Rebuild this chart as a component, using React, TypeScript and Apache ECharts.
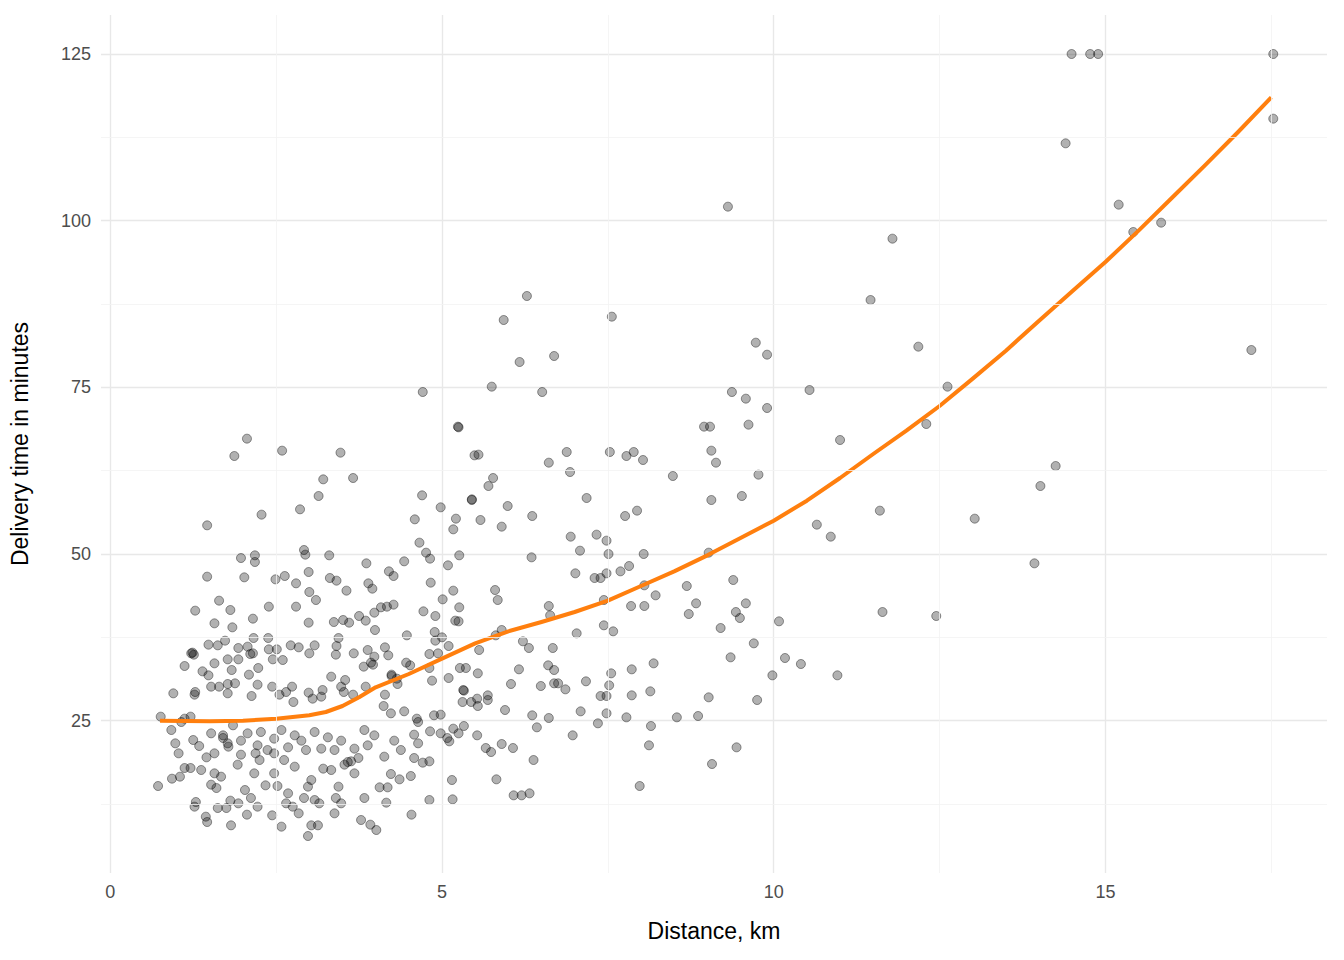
import React, { useEffect, useRef } from "react";
import * as echarts from "echarts";

// [distance km, delivery minutes]
const orders: number[][] = [
  [14.49, 125], [14.77, 125], [14.89, 125], [17.53, 125], [17.53, 115.3], [14.4, 111.6], [9.31, 102.1],
  [15.2, 102.4], [15.42, 98.3], [15.84, 99.7], [11.79, 97.3], [11.46, 88.1], [6.28, 88.7], [5.93, 85.1],
  [7.56, 85.6], [9.73, 81.7], [9.9, 79.9], [6.69, 79.7], [6.17, 78.8], [12.18, 81.1], [17.2, 80.6],
  [5.75, 75.1], [6.51, 74.3], [4.71, 74.3], [9.37, 74.3], [9.58, 73.3], [9.9, 71.9], [10.54, 74.6],
  [12.62, 75.1], [11.0, 67.1], [12.3, 69.5], [9.62, 69.4], [8.95, 69.1], [9.04, 69.1], [9.06, 65.5],
  [9.13, 63.7], [7.53, 65.3], [7.89, 65.3], [7.78, 64.7], [6.88, 65.3], [6.61, 63.7], [8.03, 64.1],
  [8.48, 61.7], [9.77, 61.9], [6.93, 62.3], [14.25, 63.2], [14.02, 60.2], [7.18, 58.4], [9.52, 58.7],
  [9.06, 58.1], [7.94, 56.5], [7.76, 55.7], [11.6, 56.5], [10.65, 54.4], [13.03, 55.3], [10.86, 52.6],
  [6.94, 52.6], [7.33, 52.9], [7.48, 52], [7.08, 50.5], [7.51, 50], [8.04, 50], [9.02, 50.2], [6.35, 49.5],
  [7.82, 48.2], [7.69, 47.4], [7.01, 47.1], [7.3, 46.4], [7.39, 46.4], [7.48, 47.1], [9.39, 46.1],
  [13.93, 48.6], [8.05, 45.3], [7.44, 43.1], [8.22, 43.8], [8.69, 45.2], [7.85, 42.2], [8.05, 42.2],
  [8.72, 41], [8.83, 42.6], [9.58, 42.6], [9.43, 41.3], [9.49, 40.4], [11.64, 41.3], [12.45, 40.7],
  [10.08, 39.9], [9.2, 38.9], [7.44, 39.3], [7.58, 38.4], [7.03, 38.1], [9.7, 36.6], [9.35, 34.5],
  [10.17, 34.4], [10.41, 33.5], [8.19, 33.6], [7.86, 32.7], [7.55, 32.1], [7.52, 30.3], [10.96, 31.8],
  [9.98, 31.8], [8.14, 29.4], [7.39, 28.7], [7.48, 28.7], [7.86, 28.8], [9.02, 28.5], [7.17, 30.9],
  [6.86, 29.7], [9.75, 28.1], [7.09, 26.4], [7.48, 26.1], [7.78, 25.5], [8.54, 25.5], [8.86, 25.7],
  [8.15, 24.2], [7.35, 24.6], [6.97, 22.8], [8.12, 21.3], [9.44, 21], [9.07, 18.5], [7.98, 15.2],
  [6.08, 13.8], [6.2, 13.8], [6.32, 14.1], [6.38, 19.1],
  [5.9, 54.1], [5.99, 57.2], [5.77, 61.4], [5.55, 64.9], [6.36, 55.7], [5.7, 60.2], [5.58, 55.1],
  [5.45, 58.1], [5.24, 69.1], [5.8, 44.6], [5.84, 43.1], [6.61, 42.2], [6.63, 40.8], [5.81, 37.8],
  [6.22, 36.9], [6.31, 35.9], [6.67, 35.9], [6.6, 33.3], [6.69, 32.6], [6.69, 30.6], [6.75, 30.6],
  [6.49, 30.2], [6.04, 30.5], [5.69, 28.8], [5.69, 28.1], [5.44, 27.8], [5.54, 27.2], [5.95, 26.6],
  [6.36, 25.8], [6.61, 25.4], [6.43, 24], [5.66, 20.9], [5.74, 20.3], [5.9, 21.5], [6.07, 20.9],
  [5.82, 16.2], [5.32, 29.6], [5.36, 32.9], [5.56, 35.6], [5.9, 38.6], [6.16, 32.7],
  [2.06, 67.3], [1.87, 64.7], [2.59, 65.5], [3.47, 65.2], [3.14, 58.7], [3.21, 61.2], [3.66, 61.4],
  [2.86, 56.7], [2.28, 55.9], [1.46, 54.3], [4.7, 58.8], [4.98, 57.0], [4.59, 55.2], [5.25, 69.0],
  [5.49, 64.8], [5.45, 58.2], [5.21, 55.3], [5.17, 53.7], [4.66, 51.7], [4.76, 50.2], [4.82, 49.3],
  [5.26, 49.8], [5.09, 48.3], [2.92, 50.6], [2.94, 49.9], [3.3, 49.8], [1.97, 49.4], [2.18, 49.8],
  [2.18, 48.8], [1.46, 46.6], [2.02, 46.5], [2.49, 46.2], [2.63, 46.7], [2.99, 47.3], [2.8, 45.6],
  [3.31, 46.4], [3.41, 46], [3.56, 44.5], [3.86, 48.6], [4.2, 47.4], [4.27, 46.7], [4.43, 48.9],
  [3.89, 45.6], [3.95, 44.8], [4.83, 45.7], [5.17, 44.5], [5.01, 43.2], [3.0, 44.3], [3.1, 43.1],
  [2.39, 42.1], [2.8, 42.1], [1.64, 43.0], [1.81, 41.6], [1.28, 41.5], [2.15, 40.3], [1.57, 39.6],
  [1.84, 39.0], [2.99, 39.7], [3.37, 39.8], [3.51, 40.1], [3.6, 39.7], [3.75, 40.7], [3.85, 40.0],
  [3.98, 41.2], [3.99, 38.6], [4.08, 42.0], [4.17, 42.1], [4.27, 42.4], [4.72, 41.4], [4.9, 40.7],
  [5.2, 40.0], [5.25, 39.9], [5.26, 42.0], [4.47, 37.8], [4.89, 38.3], [5.0, 37.5], [4.9, 37.0],
  [5.1, 36.2], [1.22, 35.1], [1.24, 35.2], [1.12, 33.2], [1.26, 34.9], [1.39, 32.4], [1.48, 31.8],
  [1.52, 30.1], [1.28, 29.3], [0.95, 29.1], [1.27, 28.9], [0.76, 25.6], [1.48, 36.4], [1.57, 33.6],
  [1.62, 36.3], [1.73, 37.0], [1.77, 34.2], [1.83, 32.6], [1.93, 35.9], [1.93, 34.2], [2.07, 36.1],
  [2.11, 35.0], [2.15, 35.1], [2.23, 32.9], [2.16, 37.4], [2.38, 37.4], [2.39, 35.7], [2.51, 35.7],
  [2.45, 34.2], [2.6, 34.1], [2.72, 36.3], [2.84, 36.0], [3.0, 35.1], [3.08, 36.3], [3.41, 36.2],
  [3.4, 34.9], [3.44, 37.4], [3.67, 35.1], [3.82, 33.1], [3.96, 33.4], [3.88, 35.6], [3.98, 34.6],
  [4.14, 36.0], [4.19, 34.8], [4.24, 31.9], [4.32, 31.3], [4.52, 33.3], [4.46, 33.7], [4.81, 35.0],
  [4.94, 35.1], [4.81, 32.9], [4.85, 31.0], [5.1, 31.4], [5.27, 32.9], [5.54, 32.1], [1.64, 30.1],
  [1.77, 30.5], [1.88, 30.6], [2.09, 31.9], [2.22, 30.4], [2.13, 28.7], [1.77, 29.1], [2.44, 30.1],
  [2.55, 28.9], [2.65, 29.3], [2.74, 30.1], [2.76, 27.8], [2.99, 29.2], [3.05, 28.3], [3.2, 29.6],
  [3.18, 28.6], [3.33, 31.6], [3.48, 30.1], [3.54, 31.1], [3.52, 29.3], [3.66, 28.9], [3.85, 30.1],
  [3.93, 33.7], [4.14, 28.9], [4.24, 31.7], [4.33, 30.5], [4.12, 27.2], [4.23, 26.1], [4.43, 26.4],
  [4.64, 24.8], [4.62, 25.3], [4.82, 23.4], [4.88, 25.8], [4.98, 25.9], [5.31, 27.8], [5.33, 29.5],
  [5.53, 28.3], [5.53, 22.8], [5.33, 24.2], [1.12, 25.3], [1.21, 25.6], [1.07, 24.8], [0.92, 23.6],
  [0.98, 21.6], [1.03, 20.1], [1.25, 22.1], [1.34, 21.2], [0.72, 15.2], [0.93, 16.3], [1.05, 16.6],
  [1.12, 17.9], [1.21, 17.9], [1.37, 17.6], [1.45, 19.5], [1.52, 15.4], [1.6, 14.9], [1.67, 16.6],
  [1.57, 20.1], [1.7, 22.4], [1.78, 21.1], [1.27, 12.1], [1.29, 12.8], [1.44, 10.6], [1.46, 9.8],
  [1.62, 11.9], [1.75, 11.9], [1.82, 9.3], [1.81, 13.0], [1.92, 18.4], [1.97, 19.9], [2.03, 14.6],
  [2.06, 10.9], [2.12, 13.4], [2.19, 20.1], [2.25, 19.1], [2.34, 15.3], [2.44, 10.8], [2.47, 17.1],
  [2.52, 15.2], [2.58, 9.1], [2.62, 19.1], [2.65, 12.6], [2.75, 12.1], [2.84, 11.1], [2.92, 13.4],
  [2.98, 7.7], [3.03, 9.3], [3.13, 9.3], [3.15, 12.6], [3.21, 17.8], [3.38, 11.1], [3.4, 13.4],
  [3.44, 15.1], [3.53, 18.4], [3.63, 18.9], [3.74, 19.4], [3.83, 13.4], [3.92, 9.4], [4.01, 8.6],
  [4.06, 15.0], [4.18, 15.0], [4.16, 12.7], [4.23, 17.0], [4.36, 16.2], [4.53, 16.7], [4.54, 10.9],
  [4.58, 19.4], [4.71, 18.7], [4.81, 18.9], [4.81, 13.1], [5.15, 16.1], [5.16, 13.2], [4.58, 22.9],
  [4.64, 21.6], [4.98, 23.1], [5.08, 22.4], [5.11, 21.9], [5.17, 23.8], [5.25, 23.1],
  [1.52, 23.1], [1.7, 22.8], [1.77, 21.6], [1.85, 24.3], [1.97, 22.0], [2.07, 23.1], [2.22, 21.3],
  [2.27, 23.3], [2.37, 20.6], [2.47, 22.3], [2.58, 23.6], [2.68, 21.0], [2.78, 22.8], [2.88, 22.0],
  [2.95, 20.6], [3.08, 23.3], [3.18, 20.8], [3.28, 22.5], [3.38, 20.6], [3.48, 22.0], [3.58, 18.8],
  [3.68, 20.8], [3.83, 23.6], [3.88, 21.3], [3.98, 22.8], [4.13, 19.6], [4.28, 22.0], [4.38, 20.6],
  [1.57, 17.1], [2.17, 17.1], [2.47, 20.1], [2.78, 18.1], [3.03, 16.1], [3.33, 17.6], [3.68, 17.1],
  [2.98, 15.1], [2.68, 14.1], [1.93, 12.6], [2.22, 12.1], [3.48, 12.6], [3.78, 10.1], [3.08, 13.1],
];

// loess fit
const smoothX = [0.75, 1.5, 2, 2.5, 3, 3.25, 3.5, 3.75, 4, 4.5, 5, 5.5, 6, 6.5, 7, 7.5, 8, 8.5, 9, 9.5, 10,
  10.5, 11, 11.5, 12, 12.5, 13, 13.5, 14, 14.5, 15, 15.5, 16, 16.5, 17, 17.5];
const smoothY = [25, 24.9, 25, 25.3, 25.8, 26.3, 27.2, 28.5, 30, 32, 34.3, 36.6, 38.4, 39.8, 41.3, 43, 45.2,
  47.4, 49.8, 52.4, 55, 58, 61.4, 65, 68.5, 72.2, 76.3, 80.5, 85, 89.4, 93.8, 98.5, 103.4, 108.3, 113.3, 118.5];

const xTicks = [0, 5, 10, 15];
const yTicks = [25, 50, 75, 100, 125];
const xMinor = [2.5, 7.5, 12.5, 17.5];
const yMinor = [12.5, 37.5, 62.5, 87.5, 112.5];

const FONT = "Liberation Sans, Arial, sans-serif";

export default function App() {
  const ref = useRef<HTMLDivElement>(null);

  useEffect(() => {
    if (!ref.current) return;
    const chart = echarts.init(ref.current, null, { renderer: "svg" });
    const minorLine = { color: "#f3f3f3", width: 0.8, type: "solid" as const };

    chart.setOption({
      animation: false,
      backgroundColor: "#ffffff",
      textStyle: { fontFamily: FONT },
      grid: { left: 99, right: 17, top: 15, bottom: 87 },
      xAxis: {
        type: "value",
        min: -0.14,
        max: 18.34,
        name: "Distance, km",
        nameLocation: "middle",
        nameGap: 46,
        nameTextStyle: { color: "#000", fontSize: 23, fontFamily: FONT },
        axisLine: { show: false },
        axisTick: { show: false, customValues: xTicks },
        axisLabel: { customValues: xTicks, color: "#4d4d4d", fontSize: 18, margin: 10, fontFamily: FONT },
        splitLine: { lineStyle: { color: "#e8e8e8", width: 1.4 } },
      },
      yAxis: {
        type: "value",
        min: 2.15,
        max: 130.85,
        name: "Delivery time in minutes",
        nameLocation: "middle",
        nameGap: 70,
        nameTextStyle: { color: "#000", fontSize: 23, fontFamily: FONT },
        axisLine: { show: false },
        axisTick: { show: false, customValues: yTicks },
        axisLabel: { customValues: yTicks, color: "#4d4d4d", fontSize: 18, margin: 10, fontFamily: FONT },
        splitLine: { lineStyle: { color: "#e8e8e8", width: 1.4 } },
      },
      series: [
        {
          type: "line",
          data: [],
          silent: true,
          markLine: {
            silent: true,
            symbol: "none",
            label: { show: false },
            lineStyle: minorLine,
            data: [...xMinor.map((v) => ({ xAxis: v })), ...yMinor.map((v) => ({ yAxis: v }))],
          },
        },
        {
          type: "scatter",
          data: orders,
          symbolSize: 9,
          itemStyle: { color: "rgba(0,0,0,0.38)", borderColor: "rgba(0,0,0,0.5)", borderWidth: 1 },
        },
        {
          type: "line",
          data: smoothX.map((x, i) => [x, smoothY[i]]),
          smooth: false,
          showSymbol: false,
          lineStyle: { color: "#ff7f0e", width: 4, join: "round" },
        },
      ],
    });

    return () => chart.dispose();
  }, []);

  return <div ref={ref} style={{ width: 1344, height: 960, margin: -8 }} />;
}
